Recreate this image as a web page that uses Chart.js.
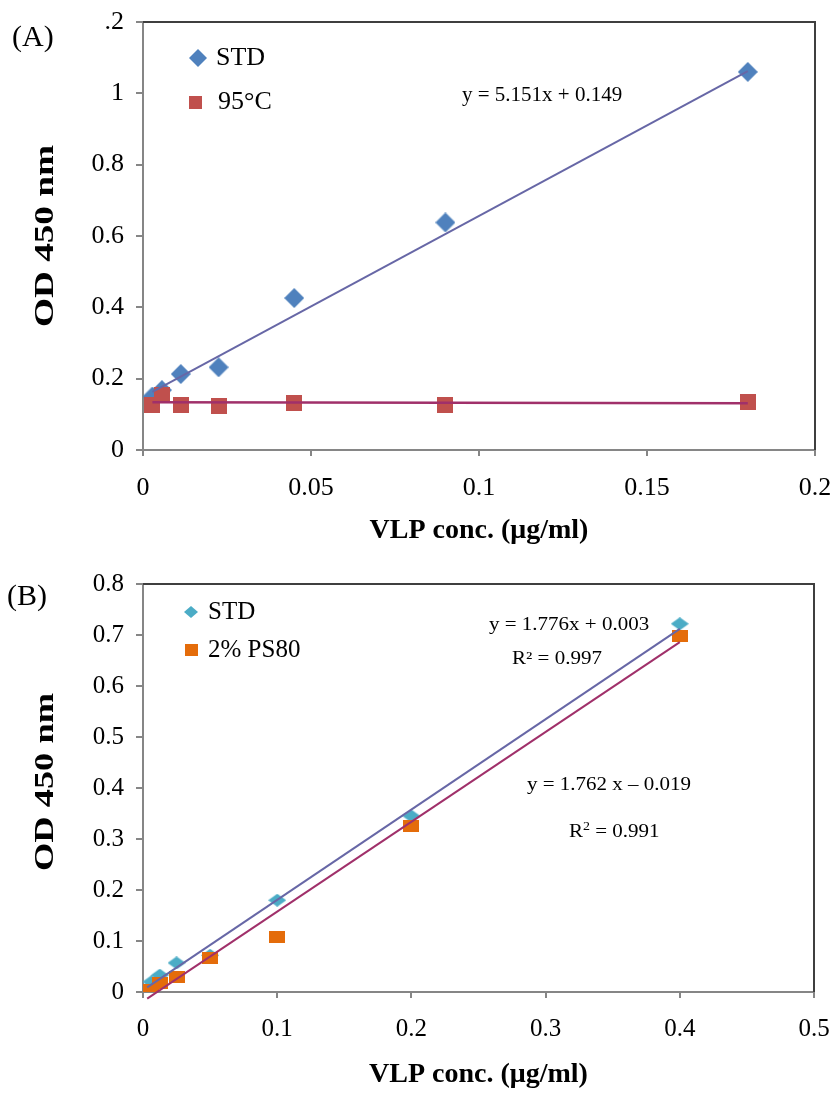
<!DOCTYPE html>
<html>
<head>
<meta charset="utf-8">
<script src="https://cdn.jsdelivr.net/npm/chart.js@4.4.0/dist/chart.umd.min.js"></script>
<style>
  html, body { margin: 0; padding: 0; background: #fff; }
  canvas { display: block; }
</style>
</head>
<body>
<canvas id="chartA" width="836" height="548"></canvas>
<canvas id="chartB" width="836" height="550"></canvas>
<script>
const FONT = "'Liberation Serif', 'Times New Roman', serif";
const AXIS_GREY = "#868686";
const FRAME_GREY = "#3f3f3f";

// (A) standard vs heat-treated (95°C)
const xTickTextA = ["0", "0.05", "0.1", "0.15", "0.2"];
const yTickTextA = ["0", "0.2", "0.4", "0.6", "0.8", "1", ".2"];
const concA = [0.0028, 0.005625, 0.01125, 0.0225, 0.045, 0.09, 0.18];
const stdA = [0.15, 0.168, 0.213, 0.232, 0.426, 0.638, 1.06];
const heatA = [0.126, 0.154, 0.126, 0.123, 0.133, 0.126, 0.134];
const fitStdAx = [0.0028, 0.18];
const fitStdAy = [0.163, 1.062];
const fitHeatAx = [0.0028, 0.18];
const fitHeatAy = [0.134, 0.131];

// (B) standard vs 2% PS80
const xTickTextB = ["0", "0.1", "0.2", "0.3", "0.4", "0.5"];
const yTickTextB = ["0", "0.1", "0.2", "0.3", "0.4", "0.5", "0.6", "0.7", "0.8"];
const concB = [0.003125, 0.00625, 0.0125, 0.025, 0.05, 0.1, 0.2, 0.4];
const stdB = [0.006, 0.02, 0.033, 0.057, 0.072, 0.18, 0.345, 0.722];
const ps80B = [0.0, 0.004, 0.017, 0.03, 0.067, 0.107, 0.326, 0.698];
const fitStdBx = [0.003125, 0.4];
const fitStdBy = [0.009, 0.712];
const fitPs80Bx = [0.003125, 0.4];
const fitPs80By = [-0.013, 0.686];

function makeMarker(shape, color, w, h) {
  const c = document.createElement("canvas");
  c.width = w;
  c.height = h;
  const ctx = c.getContext("2d");
  ctx.fillStyle = color;
  ctx.beginPath();
  if (shape === "diamond") {
    ctx.moveTo(w / 2, 0);
    ctx.lineTo(w, h / 2);
    ctx.lineTo(w / 2, h);
    ctx.lineTo(0, h / 2);
  } else {
    ctx.rect(0, 0, w, h);
  }
  ctx.closePath();
  ctx.fill();
  return c;
}

function toPoints(xs, ys) {
  return xs.map((x, i) => ({ x, y: ys[i] }));
}

// top + right frame lines, y title, legend and equation texts
const decorPlugin = {
  id: "decor",
  afterDatasetsDraw(chart, args, opts) {
    const { ctx, chartArea } = chart;
    ctx.save();
    ctx.strokeStyle = FRAME_GREY;
    ctx.lineWidth = 2;
    ctx.beginPath();
    ctx.moveTo(chartArea.left, chartArea.top);
    ctx.lineTo(chartArea.right, chartArea.top);
    ctx.lineTo(chartArea.right, chartArea.bottom);
    ctx.stroke();

    ctx.fillStyle = "#000";
    if (opts.yTitle) {
      const t = opts.yTitle;
      ctx.save();
      ctx.translate(t.x, (chartArea.top + chartArea.bottom) / 2 + (t.dy || 0));
      ctx.rotate(-Math.PI / 2);
      ctx.scale(t.stretch, 1);
      ctx.font = `bold ${t.size}px ${FONT}`;
      ctx.textAlign = "center";
      ctx.textBaseline = "middle";
      ctx.fillText(t.text, 0, 0);
      ctx.restore();
    }

    ctx.textBaseline = "middle";
    ctx.textAlign = "left";
    (opts.legend || []).forEach((item) => {
      ctx.drawImage(item.marker, item.mx - item.marker.width / 2, item.y - item.marker.height / 2);
      ctx.font = `${item.size}px ${FONT}`;
      ctx.fillText(item.label, item.tx, item.y);
    });
    (opts.texts || []).forEach((t) => {
      ctx.save();
      ctx.translate(t.x, t.y);
      ctx.scale(1, t.sy || 1);
      ctx.font = `${t.size}px ${FONT}`;
      let x = 0;
      t.parts.forEach((p) => {
        if (p.sup) {
          ctx.font = `${Math.round(t.size * 0.65)}px ${FONT}`;
          ctx.fillText(p.text, x, -t.size * 0.3);
          x += ctx.measureText(p.text).width;
          ctx.font = `${t.size}px ${FONT}`;
        } else {
          ctx.fillText(p.text, x, 0);
          x += ctx.measureText(p.text).width;
        }
      });
      ctx.restore();
    });
    ctx.restore();
  },
};

function buildScales(cfg) {
  return {
    x: {
      type: "linear",
      min: 0,
      max: cfg.xMax,
      ticks: {
        stepSize: cfg.xStep,
        maxRotation: 0,
        autoSkip: false,
        color: "#000",
        padding: cfg.xTickPad,
        font: { family: FONT, size: cfg.tickSize },
        callback: (v) => cfg.xLabels[Math.round(v / cfg.xStep)],
      },
      grid: { drawOnChartArea: false, color: AXIS_GREY, lineWidth: 2, tickLength: 6 },
      border: { color: AXIS_GREY, width: 2 },
      title: {
        display: true,
        text: "VLP conc. (μg/ml)",
        color: "#000",
        font: { family: FONT, size: cfg.titleSize, weight: "bold" },
        padding: { top: 0, bottom: cfg.xTitlePad },
      },
      afterFit: (scale) => {
        scale.height = cfg.xHeight;
        scale.paddingLeft = 0;
        scale.paddingRight = 0;
      },
    },
    y: {
      type: "linear",
      min: 0,
      max: cfg.yMax,
      ticks: {
        stepSize: cfg.yStep,
        autoSkip: false,
        color: "#000",
        padding: 12,
        font: { family: FONT, size: cfg.tickSize },
        callback: (v) => cfg.yLabels[Math.round(v / cfg.yStep)],
      },
      grid: { drawOnChartArea: false, color: AXIS_GREY, lineWidth: 2, tickLength: 7 },
      border: { color: AXIS_GREY, width: 2 },
      afterFit: (scale) => {
        scale.width = 143;
        scale.paddingTop = 0;
        scale.paddingBottom = 0;
      },
    },
  };
}

function trendSet(xs, ys, color, width) {
  return {
    data: toPoints(xs, ys),
    showLine: true,
    borderColor: color,
    borderWidth: width,
    pointRadius: 0,
    clip: false,
  };
}

function markerSet(xs, ys, marker) {
  return {
    data: toPoints(xs, ys),
    pointStyle: marker,
    pointRadius: 9,
    showLine: false,
  };
}

// ---- chart A ----
const diamondA = makeMarker("diamond", "#4f81bd", 20, 20);
const squareA = makeMarker("square", "#c0504d", 16, 16);

new Chart(document.getElementById("chartA"), {
  type: "scatter",
  data: {
    datasets: [
      trendSet(fitStdAx, fitStdAy, "#6767a6", 2),
      trendSet(fitHeatAx, fitHeatAy, "#a0306a", 2.5),
      markerSet(concA, heatA, squareA),
      markerSet(concA, stdA, diamondA),
    ],
  },
  options: {
    responsive: false,
    animation: false,
    layout: { padding: { left: 0, top: 22, right: 21, bottom: 0 } },
    scales: buildScales({
      xMax: 0.2, xStep: 0.05, xLabels: xTickTextA,
      yMax: 1.2, yStep: 0.2, yLabels: yTickTextA,
      tickSize: 26, titleSize: 28, xTickPad: 17, xTitlePad: 0,
      xHeight: 98,
    }),
    plugins: {
      legend: { display: false },
      tooltip: { enabled: false },
      decor: {
        yTitle: { text: "OD 450 nm", x: 46, size: 28, stretch: 1.33 },
        legend: [
          { marker: makeMarker("diamond", "#4f81bd", 18, 18), mx: 198, tx: 216, y: 58, label: "STD", size: 26 },
          { marker: makeMarker("square", "#c0504d", 13, 13), mx: 195, tx: 218, y: 102, label: "95°C", size: 26 },
        ],
        texts: [
          { x: 12, y: 38, size: 30, parts: [{ text: "(A)" }] },
          { x: 462, y: 95, size: 21, parts: [{ text: "y = 5.151x + 0.149" }] },
        ],
      },
    },
  },
  plugins: [decorPlugin],
});

// ---- chart B (vertically squeezed in the original) ----
const diamondB = makeMarker("diamond", "#4bacc6", 18, 13);
const squareB = makeMarker("square", "#e46c0a", 16, 12);

new Chart(document.getElementById("chartB"), {
  type: "scatter",
  data: {
    datasets: [
      trendSet(fitStdBx, fitStdBy, "#6767a6", 2),
      trendSet(fitPs80Bx, fitPs80By, "#a0306a", 2),
      markerSet(concB, ps80B, squareB),
      markerSet(concB, stdB, diamondB),
    ],
  },
  options: {
    responsive: false,
    animation: false,
    layout: { padding: { left: 0, top: 36, right: 22, bottom: 0 } },
    scales: buildScales({
      xMax: 0.5, xStep: 0.1, xLabels: xTickTextB,
      yMax: 0.8, yStep: 0.1, yLabels: yTickTextB,
      tickSize: 25, titleSize: 28, xTickPad: 16, xTitlePad: 6,
      xHeight: 106,
    }),
    plugins: {
      legend: { display: false },
      tooltip: { enabled: false },
      decor: {
        yTitle: { text: "OD 450 nm", x: 46, size: 28, stretch: 1.3, dy: -6 },
        legend: [
          { marker: makeMarker("diamond", "#4bacc6", 14, 12), mx: 191, tx: 208, y: 64, label: "STD", size: 25 },
          { marker: makeMarker("square", "#e46c0a", 13, 12), mx: 191, tx: 208, y: 102, label: "2% PS80", size: 25 },
        ],
        texts: [
          { x: 7, y: 49, size: 30, parts: [{ text: "(B)" }] },
          { x: 489, y: 77, size: 21, sy: 0.85, parts: [{ text: "y = 1.776x + 0.003" }] },
          { x: 512, y: 111, size: 21, sy: 0.85, parts: [{ text: "R² = 0.997" }] },
          { x: 527, y: 237, size: 21, sy: 0.85, parts: [{ text: "y = 1.762 x – 0.019" }] },
          { x: 569, y: 284, size: 21, sy: 0.85, parts: [{ text: "R" }, { text: "2", sup: true }, { text: " = 0.991" }] },
        ],
      },
    },
  },
  plugins: [decorPlugin],
});
</script>
</body>
</html>
